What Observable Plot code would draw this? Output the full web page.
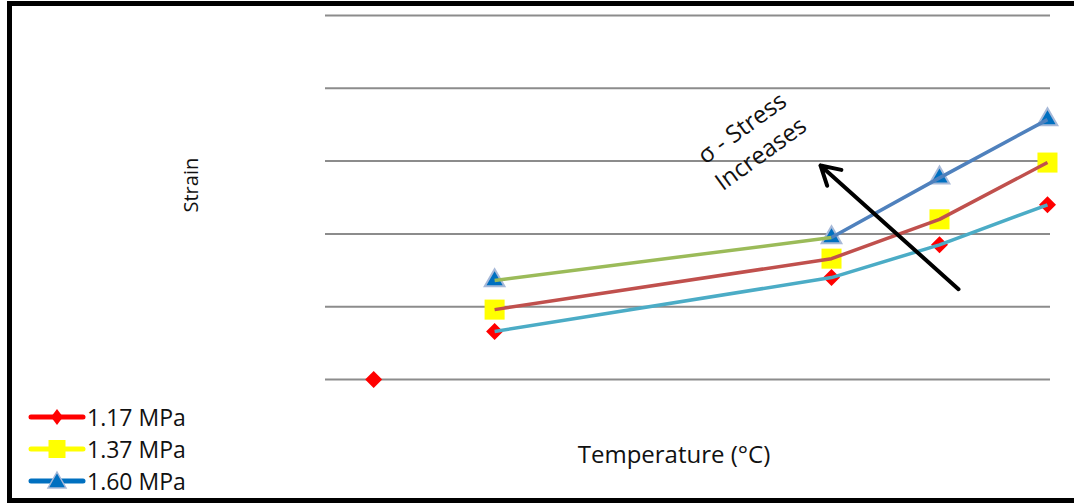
<!DOCTYPE html>
<html>
<head>
<meta charset="utf-8">
<script src="https://cdn.jsdelivr.net/npm/d3@7"></script>
<script src="https://cdn.jsdelivr.net/npm/@observablehq/plot@0.6"></script>
<style>
  html, body { margin: 0; padding: 0; background: #fff; overflow: hidden; }
  #chart { position: relative; width: 1074px; height: 504px; overflow: hidden; font-family: "Open Sans", sans-serif; color: #111; }
  #chart svg.plot { position: absolute; left: 0; top: 0; }
  #border { position: absolute; left: 7px; top: 1px; width: 1100px; height: 492px; border: 5px solid #000; pointer-events: none; }
  #legend { position: absolute; left: 28px; top: 401px; }
  #legend .row { display: flex; align-items: center; height: 32px; }
  #legend .row span { font-size: 23px; margin-left: 1px; line-height: 1; }
</style>
</head>
<body>
<div id="chart"><div id="border"></div></div>
<script>
// Creep strain against temperature for three stress levels
const seriesNames = ["1.17 MPa", "1.37 MPa", "1.60 MPa"];

const temp117 = [18.8, 24.4, 40, 45, 50];
const strain117 = [0.0, 0.00066, 0.0014, 0.00185, 0.0024];

const temp137 = [24.4, 40, 45, 50];
const strain137 = [0.00096, 0.00166, 0.0022, 0.00298];

const temp160 = [24.4, 40, 45, 50];
const strain160 = [0.00136, 0.00195, 0.00277, 0.00357];

// Horizontal grid levels
const gridStrain = [0, 0.001, 0.002, 0.003, 0.004, 0.005];

// Connecting segments: which series, first and last point index
const segSeries = [0, 1, 2, 2];
const segFrom = [1, 0, 0, 1];
const segTo = [4, 3, 1, 3];

// Annotation arrow (tail → head) and its label, in temperature/strain units
const arrowTemp = [45.88, 39.49];
const arrowStrain = [0.00124, 0.00294];
const noteTemp = 36.23;
const noteStrain = 0.0033;
const noteText = "σ - Stress\nIncreases";

// Styling
const markerColors = ["#ff0000", "#ffff00", "#0070c0"];
const segColors = ["#4bacc6", "#c0504d", "#9bbb59", "#4f81bd"];

const temps = [temp117, temp137, temp160];
const strains = [strain117, strain137, strain160];
const points = temps.map((ts, s) => ts.map((t, i) => ({series: s, temp: t, strain: strains[s][i]})));

const segMarks = segSeries.map((s, k) =>
  Plot.line(points[s].slice(segFrom[k], segTo[k] + 1), {
    x: "temp", y: "strain", stroke: segColors[k], strokeWidth: 3.5, strokeLinecap: "butt"
  })
);

const plot = Plot.plot({
  width: 1074,
  height: 504,
  marginTop: 15,
  marginBottom: 125,
  marginLeft: 325,
  marginRight: 24,
  style: {fontFamily: "Open Sans, sans-serif", background: "transparent", color: "#111"},
  x: {domain: [16.57, 50.14], axis: null},
  y: {domain: [0, 0.005], axis: null},
  marks: [
    Plot.ruleY(gridStrain, {stroke: "#8c8c8c", strokeWidth: 2}),
    Plot.text(["Strain"], {text: d => d, frameAnchor: "left", dx: -134, dy: 15, rotate: -90, fontSize: 20, fill: "#111"}),
    Plot.text(["Temperature (°C)"], {text: d => d, frameAnchor: "bottom", dx: -14, dy: 83, fontSize: 24, fill: "#111"}),
    Plot.dot(points[0], {x: "temp", y: "strain", symbol: "diamond2", r: 7.66, fill: markerColors[0], stroke: "none"}),
    Plot.dot(points[1], {x: "temp", y: "strain", symbol: "square", r: 11.3, fill: markerColors[1], stroke: "none"}),
    Plot.dot(points[2], {x: "temp", y: "strain", symbol: "triangle", r: 7.3, fill: markerColors[2], stroke: "#a7b9d8", strokeWidth: 2}),
    ...segMarks,
    Plot.arrow([0], {
      x1: () => arrowTemp[0], y1: () => arrowStrain[0],
      x2: () => arrowTemp[1], y2: () => arrowStrain[1],
      stroke: "#000", strokeWidth: 4, headLength: 8, headAngle: 60
    }),
    Plot.text([noteText], {
      text: d => d, x: () => noteTemp, y: () => noteStrain,
      rotate: -36, fontSize: 24, lineHeight: 1.33, fill: "#111"
    })
  ]
});
plot.classList.add("plot");
const chart = document.getElementById("chart");
chart.insertBefore(plot, chart.firstChild);

// Legend with line-and-marker swatches
const legendShapes = [
  "M0,-8L6,0L0,8L-6,0Z",
  "M-8.5,-9H8.5V9H-8.5Z",
  "M0,-9L9,7H-9Z"
];
const legend = d3.select("#chart").append("div").attr("id", "legend");
seriesNames.forEach((name, i) => {
  const row = legend.append("div").attr("class", "row");
  const svg = row.append("svg").attr("width", 58).attr("height", 24);
  svg.append("line").attr("x1", 3).attr("x2", 55).attr("y1", 12).attr("y2", 12)
    .attr("stroke", markerColors[i]).attr("stroke-width", 5).attr("stroke-linecap", "round");
  svg.append("path").attr("d", legendShapes[i]).attr("transform", "translate(29,12)")
    .attr("fill", markerColors[i])
    .attr("stroke", i === 2 ? "#a7b9d8" : "none").attr("stroke-width", 1.5);
  row.append("span").text(name);
});
</script>
</body>
</html>
